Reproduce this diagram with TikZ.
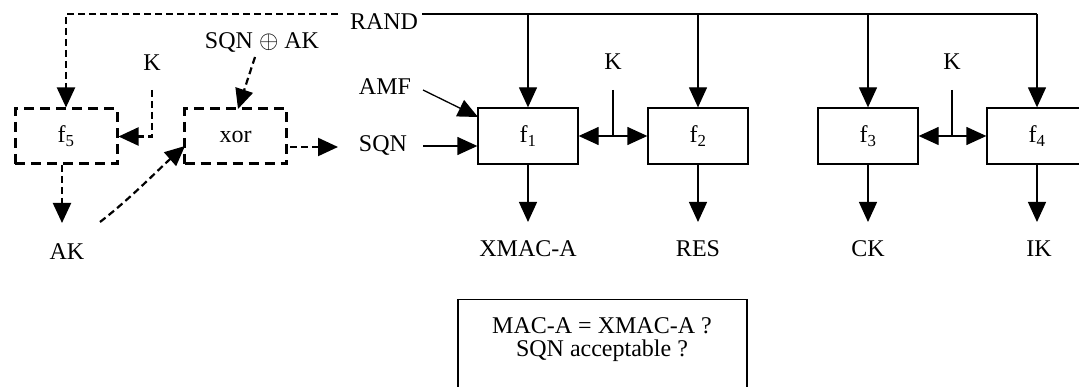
\documentclass[tikz,border=0pt]{standalone}
\usepackage{fontspec}
\setmainfont{Liberation Serif}
\usetikzlibrary{arrows.meta,calc}
\begin{document}
\begin{tikzpicture}[x=1pt,y=-1pt,
  lbl/.style={inner sep=0pt, font=\fontsize{24}{24}\selectfont},
  fbox/.style={draw, line width=1.3pt, minimum width=100pt, minimum height=56pt, inner sep=0pt, font=\fontsize{24}{24}\selectfont},
  dbox/.style={fbox, line width=3pt, dash pattern=on 10pt off 6pt, minimum width=102pt, minimum height=55pt},
  conn/.style={line width=1.3pt, -{Triangle[length=20pt,width=18pt]}},
  dconn/.style={line width=2.2pt, dash pattern=on 7pt off 4pt, -{Triangle[length=20pt,width=18pt]}},
  dbl/.style={line width=1.3pt, {Triangle[length=20pt,width=18pt]}-{Triangle[length=20pt,width=18pt]}},
]
\useasboundingbox (0,0) rectangle (1079,387);
\clip (0,0) rectangle (1079,387);

% function boxes
\node[fbox] (f1) at (528,136) {f\textsubscript{1}};
\node[fbox] (f2) at (698,136) {f\textsubscript{2}};
\node[fbox] (f3) at (868,136) {f\textsubscript{3}};
\node[fbox] (f4) at (1037,136) {f\textsubscript{4}};
\node[dbox] (f5) at (66,136.5) {f\textsubscript{5}};
\node[dbox] (xor) at (235.5,136.5) {xor};

% labels
\node[lbl] (rand) at (384,22) {RAND};
\node[lbl] (amf) at (385,87) {AMF};
\node[lbl] (sqn) at (383,146) {SQN};
\node[lbl] (k12) at (613,62) {K};
\node[lbl] (k34) at (952,62) {K};
\node[lbl] (k5) at (152,63) {K};
\node[lbl] (sqnak) at (262,43) {SQN \ensuremath{\oplus} AK};
\node[lbl] (xmac) at (528,249) {XMAC-A};
\node[lbl] (res) at (698,249) {RES};
\node[lbl] (ck) at (868,249) {CK};
\node[lbl] (ik) at (1039,249) {IK};
\node[lbl] (ak) at (67,252) {AK};

% RAND distribution
\coordinate (rs) at (422,14);
\coordinate (rd) at (338,14);
\draw[line width=1.3pt] (rs) -- (f4 |- rs);
\foreach \f in {f1,f2,f3,f4} {
  \draw[conn] (\f |- rs) -- (\f.north);
}
\draw[dconn] (rd) -- (f5 |- rd) -- (f5.north);

% AMF, SQN inputs
\coordinate (amfs) at (423,90);
\coordinate (amft) at (478,117);
\draw[conn] (amfs) -- (amft);
\coordinate (sqns) at (423,146);
\draw[conn] (sqns) -- (f1.west |- sqn);

% K inputs
\coordinate (k12s) at (613,90);
\draw[dbl] (f1.east) -- (f2.west);
\draw[line width=1.3pt] (k12s) -- (k12s |- f1.east);
\coordinate (k34s) at (952,90);
\draw[dbl] (f3.east) -- (f4.west);
\draw[line width=1.3pt] (k34s) -- (k34s |- f3.east);

% outputs
\coordinate (ob) at (0,222);
\foreach \f in {f1,f2,f3,f4} {
  \draw[conn] (\f.south) -- (\f |- ob);
}

% dashed part
\coordinate (k5s) at (152,90);
\draw[dconn] (k5s) -- (k5s |- f5.east) -- (f5.east);
\coordinate (sqnaks) at (255,57);
\coordinate (sqnakt) at (238,109);
\draw[dconn] (sqnaks) -- (sqnakt);
\coordinate (xo) at (290,147);
\coordinate (xe) at (338,147);
\draw[dconn] (xo) -- (xe);
\coordinate (f5b) at (62,165);
\coordinate (aka) at (62,223);
\draw[dconn] (f5b) -- (aka);
\coordinate (akc) at (100,222);
\coordinate (xin) at (185,146);
\draw[dconn] (akc) .. controls (130,199) and (160,168) .. (xin);

% check box
\node[draw, line width=1.3pt, minimum width=289pt, minimum height=120pt, anchor=north, inner sep=0pt] (chk) at (602.5,299) {};
\node[lbl, align=center, font=\fontsize{24}{23}\selectfont] (chktxt) at (602,340) {MAC-A = XMAC-A ?\\SQN acceptable ?};
\end{tikzpicture}
\end{document}
